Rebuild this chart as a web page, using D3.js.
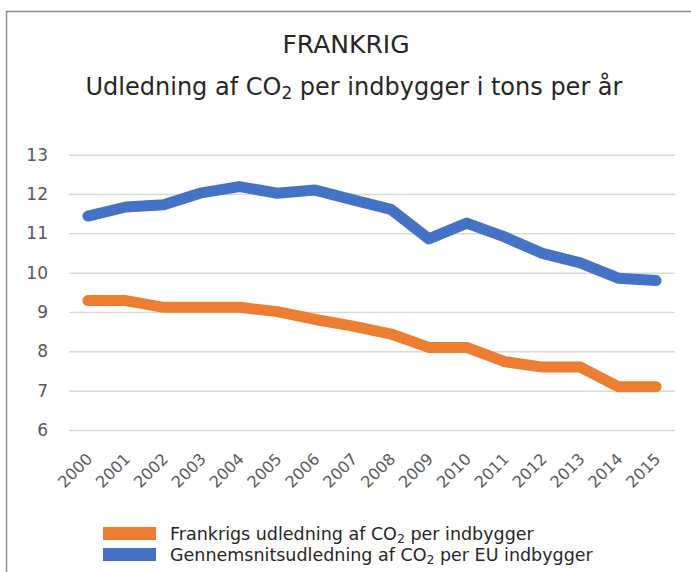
<!DOCTYPE html>
<html><head><meta charset="utf-8">
<script src="https://cdn.jsdelivr.net/npm/d3@7"></script>
<style>body{margin:0;background:#fff;} svg{display:block;} text{font-family:"DejaVu Sans",Verdana,sans-serif;}</style>
</head><body>
<script>
const years = ["2000","2001","2002","2003","2004","2005","2006","2007","2008","2009","2010","2011","2012","2013","2014","2015"];
const france = [9.29,9.29,9.12,9.12,9.12,9.01,8.81,8.64,8.44,8.1,8.1,7.74,7.6,7.6,7.1,7.1];
const euAvg = [11.44,11.67,11.73,12.03,12.19,12.02,12.1,11.85,11.61,10.86,11.26,10.91,10.49,10.25,9.86,9.8];
const yTicks = [6,7,8,9,10,11,12,13];
const seriesNames = ["Frankrigs udledning af CO|2| per indbygger","Gennemsnitsudledning af CO|2| per EU indbygger"];
const colors = ["#ED7D31","#4472C4"];

const W=691,H=572;
const svg=d3.select("body").append("svg").attr("width",W).attr("height",H);
svg.append("rect").attr("width",W).attr("height",H).attr("fill","#fff");
// frame
svg.append("path").attr("d","M6.5,572 V11.5 H691").attr("fill","none").attr("stroke","#8c8c8c").attr("stroke-width",1.5);

const x=d3.scalePoint().domain(years).range([69,675]).padding(0.5);
const y=d3.scaleLinear().domain([6,13]).range([430,154.7]);

function richText(sel, str, subSize, shift){
  str.split("|").forEach((p,i)=>{
    const t=sel.append("tspan").text(p);
    if(i%2===1){t.attr("font-size",subSize).attr("dy",shift);}
    else if(i>0){t.attr("dy",-shift);}
  });
}

svg.append("text").attr("x",346).attr("y",53).attr("text-anchor","middle").attr("font-size",25).attr("fill","#262626").text("FRANKRIG");
const st=svg.append("text").attr("x",354).attr("y",95).attr("text-anchor","middle").attr("font-size",24).attr("fill","#262626");
richText(st,"Udledning af CO|2| per indbygger i tons per år",17,4);

// grid
const yAxis=d3.axisLeft(y).tickValues(yTicks).tickSize(-(675-69)).tickFormat(d3.format("d"));
const gy=svg.append("g").attr("transform","translate(69,0)").call(yAxis);
gy.select(".domain").remove();
gy.selectAll(".tick line").attr("stroke","#d9d9d9").attr("stroke-width",1.5);
gy.selectAll(".tick text").attr("x",-21).attr("font-size",17).attr("fill","#595959").attr("font-family","DejaVu Sans, sans-serif");

// x labels
const xAxis=d3.axisBottom(x).tickSize(0);
const gx=svg.append("g").attr("transform","translate(0,430)").call(xAxis);
gx.select(".domain").remove();
gx.selectAll(".tick text").attr("font-size",16).attr("fill","#595959").attr("font-family","DejaVu Sans, sans-serif")
  .attr("text-anchor","end").attr("dy",0).attr("y",0)
  .attr("transform","translate(5,30) rotate(-45)");

const line=d3.line().x((d,i)=>x(years[i])).y(d=>y(d));
[france,euAvg].forEach((s,k)=>{
  svg.append("path").datum(s).attr("d",line).attr("fill","none").attr("stroke",colors[k])
    .attr("stroke-width",11).attr("stroke-linejoin","round").attr("stroke-linecap","round");
});

// legend
const legY=[527,548];
seriesNames.forEach((n,k)=>{
  svg.append("rect").attr("x",103).attr("y",legY[k]).attr("width",53).attr("height",13).attr("fill",colors[k]);
  const t=svg.append("text").attr("x",170).attr("y",legY[k]+12.5).attr("font-size",17.5).attr("fill","#262626");
  richText(t,n,12.5,3);
});
</script>
</body></html>
